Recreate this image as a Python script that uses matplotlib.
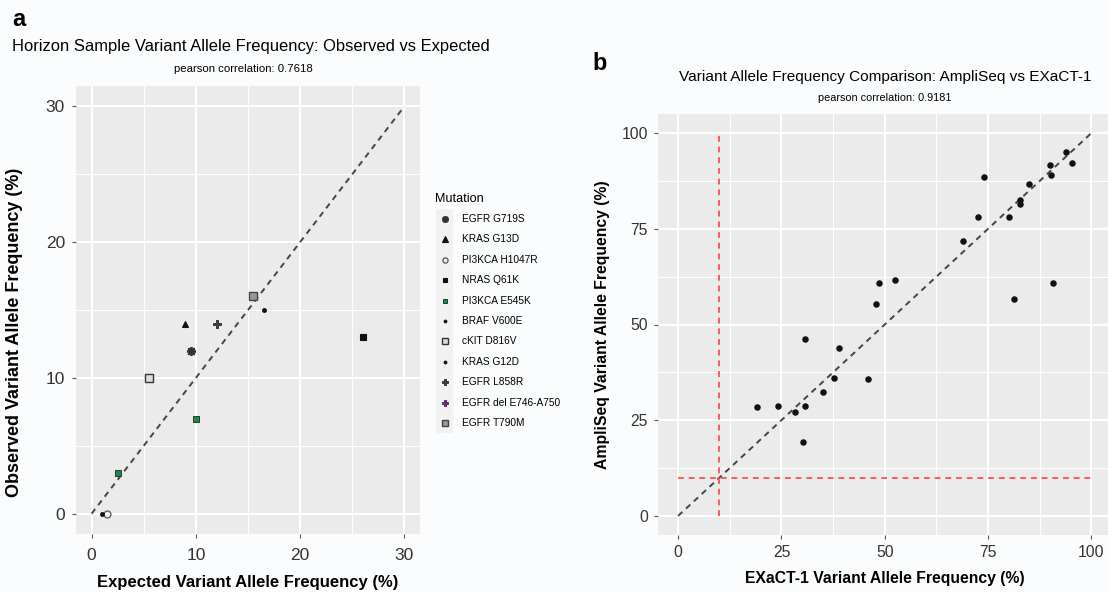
import matplotlib
matplotlib.use("Agg")
import matplotlib.pyplot as plt
from matplotlib.patches import Rectangle
import numpy as np

plt.rcParams['font.family'] = ['Liberation Sans', 'DejaVu Sans']

# ---------------- data: panel a ----------------
mutations = ["EGFR G719S", "KRAS G13D", "PI3KCA H1047R", "NRAS Q61K", "PI3KCA E545K",
             "BRAF V600E", "cKIT D816V", "KRAS G12D", "EGFR L858R", "EGFR del E746-A750",
             "EGFR T790M"]
expected = [[9.5], [9.0], [1.5], [26.0], [2.5, 10.0], [16.5], [5.5], [1.0], [12.0], [], [15.5]]
observed = [[12.0], [14.0], [0.0], [13.0], [3.0, 7.0], [15.0], [10.0], [0.0], [14.0], [], [16.0]]

# ---------------- data: panel b ----------------
exact_vaf = [93.9, 90.0, 95.3, 73.9, 90.2, 84.9, 82.8, 82.8, 72.5, 80.0, 68.9, 48.6, 52.5,
             47.9, 90.8, 81.2, 30.7, 38.9, 37.8, 45.9, 35.0, 19.2, 24.1, 28.2, 30.8, 30.2]
ampliseq_vaf = [95.0, 91.8, 92.2, 88.6, 89.0, 86.7, 82.5, 81.5, 78.0, 78.0, 71.8, 60.8, 61.6,
                55.3, 60.8, 56.7, 46.2, 43.8, 36.1, 35.8, 32.4, 28.4, 28.7, 27.1, 28.8, 19.4]

# marker styles (shape, facecolor, edgecolor, size)
styles = {
    "EGFR G719S": dict(marker=(8, 2, 0), mfc="#222222", mec="#333333", ms=6.5, mew=1.3),
    "KRAS G13D": dict(marker="^", mfc="#111111", mec="#111111", ms=5, mew=0.8),
    "PI3KCA H1047R": dict(marker="o", mfc="none", mec="#555555", ms=5, mew=0.9),
    "NRAS Q61K": dict(marker="s", mfc="#111111", mec="#111111", ms=4.5, mew=0.8),
    "PI3KCA E545K": dict(marker="s", mfc="#1b8a4f", mec="#1f3d2c", ms=4.5, mew=0.7),
    "BRAF V600E": dict(marker="o", mfc="#111111", mec="#111111", ms=3, mew=0.5),
    "cKIT D816V": dict(marker="s", mfc="#dddddd", mec="#333333", ms=5.5, mew=1.0),
    "KRAS G12D": dict(marker="o", mfc="#111111", mec="#111111", ms=3, mew=0.5),
    "EGFR L858R": dict(marker="P", mfc="#444444", mec="#222222", ms=6, mew=0.6),
    "EGFR del E746-A750": dict(marker="P", mfc="#7b2a8a", mec="#4a1a55", ms=6, mew=0.6),
    "EGFR T790M": dict(marker="s", mfc="#999999", mec="#444444", ms=5.5, mew=1.0),
}

W, H = 1108, 592
fig = plt.figure(figsize=(W / 100, H / 100), dpi=100)
fig.patch.set_facecolor("#fbfcfd")

PANEL = "#ebebeb"
TICKC = "#333333"


def style_ax(ax, lsize, pad):
    ax.set_facecolor(PANEL)
    for s in ax.spines.values():
        s.set_visible(False)
    ax.grid(which="major", color="white", linewidth=1.4)
    ax.grid(which="minor", color="white", linewidth=0.7)
    ax.set_axisbelow(True)
    ax.tick_params(which="major", length=3, width=0.8, color="#555555",
                   labelsize=lsize, labelcolor=TICKC, pad=pad)
    ax.tick_params(which="minor", length=0)


# ---------------- panel a ----------------
ax1 = fig.add_axes([76 / W, 1 - 534 / H, 344 / W, 448 / H])
style_ax(ax1, 12.5, 5)
ax1.tick_params(axis="x", pad=7)
ax1.set_xlim(-1.5, 31.5)
ax1.set_ylim(-1.5, 31.5)
ax1.set_xticks([0, 10, 20, 30])
ax1.set_yticks([0, 10, 20, 30])
ax1.set_xticks([5, 15, 25], minor=True)
ax1.set_yticks([5, 15, 25], minor=True)
ax1.plot([0, 30], [0, 30], linestyle=(0, (3, 2.5)), color="#444444", linewidth=1.4, zorder=2)
for m, xs, ys in zip(mutations, expected, observed):
    if xs:
        ax1.plot(xs, ys, linestyle="none", zorder=3, **styles[m])
ax1.set_xlabel("Expected Variant Allele Frequency (%)", fontsize=12, fontweight="bold",
               labelpad=9)
ax1.set_ylabel("Observed Variant Allele Frequency (%)", fontsize=13, fontweight="bold",
               labelpad=6)
ax1.yaxis.set_label_coords(-0.155, 0.45)

fig.text(12 / W, 1 - 20 / H, "a", fontsize=17, fontweight="bold", ha="left", va="center")
fig.text(12 / W, 1 - 46 / H, "Horizon Sample Variant Allele Frequency: Observed vs Expected",
         fontsize=11.9, ha="left", va="center")
fig.text(243 / W, 1 - 69 / H, "pearson correlation: 0.7618", fontsize=8.2, ha="center",
         va="center")

# ---------------- legend (manual) ----------------
lax = fig.add_axes([0, 0, 1, 1], facecolor="none")
lax.set_xlim(0, W)
lax.set_ylim(H, 0)
lax.axis("off")
lax.text(435, 199, "Mutation", fontsize=9.1, ha="left", va="center")
y0 = 219
dy = 20.4
for i, m in enumerate(mutations):
    yc = y0 + i * dy
    lax.add_patch(Rectangle((436, yc - dy / 2), 17, dy, facecolor="#f2f2f2", edgecolor="none"))
    st = dict(styles[m])
    st["ms"] = st["ms"] * 0.75
    lax.plot([444.5], [yc], linestyle="none", **st)
    lax.text(462, yc, m, fontsize=7.3, ha="left", va="center")

# ---------------- panel b ----------------
ax2 = fig.add_axes([657.5 / W, 1 - 535 / H, 454.5 / W, 421 / H])
style_ax(ax2, 11.3, 4)
ax2.set_xlim(-5, 105)
ax2.set_ylim(-5, 105)
ax2.set_xticks([0, 25, 50, 75, 100])
ax2.set_yticks([0, 25, 50, 75, 100])
ax2.set_xticks([12.5, 37.5, 62.5, 87.5], minor=True)
ax2.set_yticks([12.5, 37.5, 62.5, 87.5], minor=True)
ax2.plot([0, 100], [0, 100], linestyle=(0, (3, 2.5)), color="#444444", linewidth=1.4, zorder=2)
ax2.plot([10, 10], [0, 100], linestyle=(0, (3, 2.5)), color="#ff5a5a", linewidth=1.4, zorder=2)
ax2.plot([0, 100], [10, 10], linestyle=(0, (3, 2.5)), color="#ff5a5a", linewidth=1.4, zorder=2)
ax2.scatter(exact_vaf, ampliseq_vaf, s=22, color="#111111", zorder=3, linewidths=0)
ax2.set_xlabel("EXaCT-1 Variant Allele Frequency (%)", fontsize=11.3, fontweight="bold",
               labelpad=8)
ax2.set_ylabel("AmpliSeq Variant Allele Frequency (%)", fontsize=11.3, fontweight="bold",
               labelpad=8)

fig.text(592 / W, 1 - 64 / H, "b", fontsize=17, fontweight="bold", ha="left", va="center")
fig.text(885 / W, 1 - 77 / H, "Variant Allele Frequency Comparison: AmpliSeq vs EXaCT-1",
         fontsize=11.1, ha="center", va="center")
fig.text(885 / W, 1 - 98 / H, "pearson correlation: 0.9181", fontsize=7.8, ha="center",
         va="center")

fig.savefig("out.png", dpi=100, facecolor=fig.get_facecolor())
